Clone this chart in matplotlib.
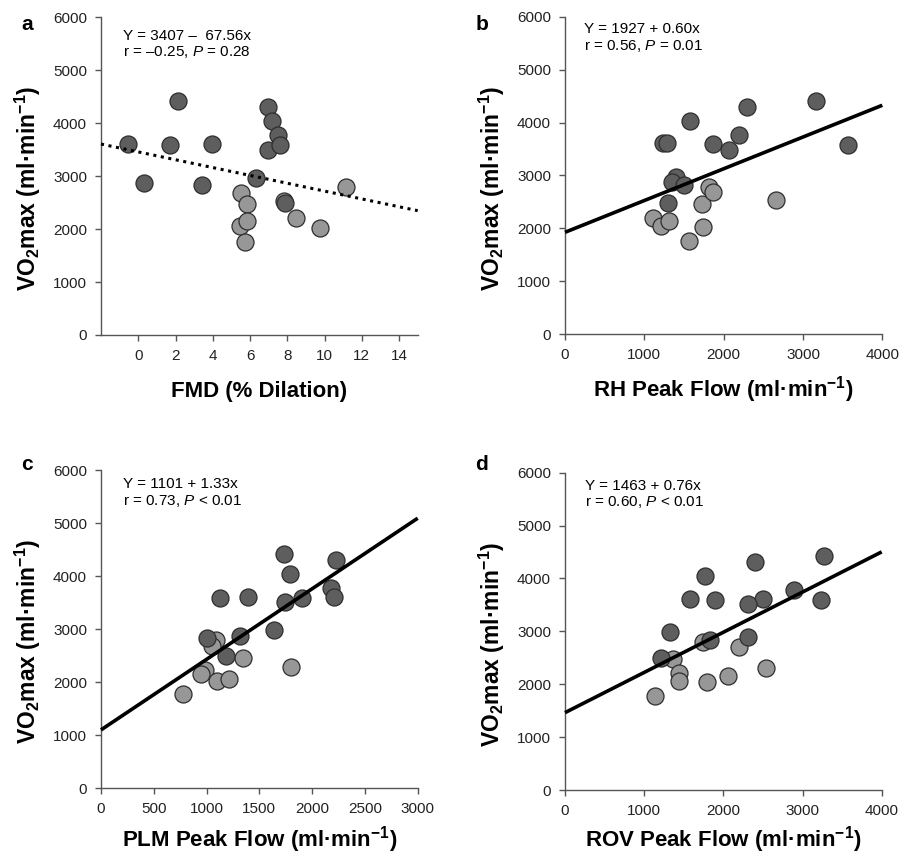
import numpy as np
import matplotlib
matplotlib.use('Agg')
import matplotlib.pyplot as plt

plt.rcParams['font.family'] = ['Liberation Sans', 'DejaVu Sans']
plt.rcParams['mathtext.fontset'] = 'custom'
plt.rcParams['mathtext.rm'] = 'Liberation Sans'
plt.rcParams['mathtext.it'] = 'Liberation Sans:italic'
plt.rcParams['mathtext.bf'] = 'Liberation Sans:bold'

# ---- datos ----
# Panel a: FMD (% dilatacion)
fmd_dark_x = [-0.57, 0.29, 1.69, 2.14, 3.44, 3.97, 6.33, 6.99, 7.20, 6.97, 7.50, 7.59, 7.90]
fmd_dark_y = [3600, 2876, 3587, 4418, 2832, 3606, 2970, 4298, 4034, 3493, 3782, 3581, 2492]
fmd_light_x = [7.85, 5.49, 5.86, 5.44, 5.83, 5.74, 8.45, 9.75, 11.14]
fmd_light_y = [2530, 2687, 2467, 2052, 2146, 1762, 2209, 2026, 2794]

# Panel b: RH peak flow
rh_dark_x = [1239, 1286, 1576, 2294, 3168, 3567, 2189, 1866, 2063, 1399, 1353, 1496, 1303]
rh_dark_y = [3608, 3608, 4036, 4301, 4414, 3583, 3772, 3589, 3482, 2979, 2872, 2821, 2487]
rh_light_x = [1113, 1214, 1311, 1559, 1723, 1739, 1811, 1861, 2655]
rh_light_y = [2198, 2047, 2147, 1763, 2462, 2021, 2783, 2683, 2531]

# Panel c: PLM peak flow
plm_dark_x = [1734, 2227, 1791, 2176, 2205, 1131, 1396, 1743, 1905, 1639, 1320, 1001, 1188]
plm_dark_y = [4410, 4309, 4039, 3781, 3605, 3593, 3605, 3505, 3580, 2977, 2876, 2832, 2493]
plm_light_x = [1087, 1052, 1349, 985, 951, 1096, 1210, 774, 1804]
plm_light_y = [2794, 2681, 2461, 2229, 2147, 2027, 2058, 1769, 2292]

# Panel d: ROV peak flow
rov_dark_x = [3267, 2396, 1773, 1579, 1891, 2505, 2316, 2897, 3229, 1326, 1827, 2316, 1217]
rov_dark_y = [4423, 4310, 4045, 3604, 3591, 3611, 3510, 3781, 3591, 2980, 2835, 2885, 2489]
rov_light_x = [1360, 1440, 1440, 1739, 2202, 1794, 2059, 2543, 1133]
rov_light_y = [2476, 2218, 2067, 2791, 2697, 2035, 2149, 2300, 1777]

# regresiones (ordenada, pendiente) como se ven en la figura
reg_a = (3458, -74.0)
reg_b = (1927, 0.60)
reg_c = (1101, 1.33)
reg_d = (1463, 0.76)

DARK = '#5e5e5e'
LIGHT = '#979797'
EDGE = '#2e2e2e'
SPINE = '#555555'

W, H = 909, 858
fig = plt.figure(figsize=(W / 100, H / 100), dpi=100)

YLAB = r'VO$_\mathbf{2}$max (ml·min$^{\mathbf{-1}}$)'
UNIT = r' (ml·min$^{\mathbf{-1}}$)'


def make_ax(left, top, right, bottom):
    return fig.add_axes([left / W, 1 - bottom / H, (right - left) / W, (bottom - top) / H])


def style(ax, hpx, xlab_off):
    for s in ['top', 'right']:
        ax.spines[s].set_visible(False)
    for s in ['left', 'bottom']:
        ax.spines[s].set_color(SPINE)
        ax.spines[s].set_linewidth(1.0)
    ax.tick_params(direction='out', length=4, width=1, color=SPINE,
                   labelsize=11, labelcolor='#222222', pad=6)
    ax.set_ylim(0, 6000)
    ax.set_yticks(range(0, 6001, 1000))
    ax.set_ylabel(YLAB, fontsize=16.5, fontweight='bold', va='center')
    ax.yaxis.set_label_coords(-73 / 317, 0.46)
    ax.xaxis.label.set_va('center')
    ax.xaxis.set_label_coords(0.5, -xlab_off / hpx)


def points(ax, dx, dy, lx, ly):
    ax.scatter(lx, ly, s=150, c=LIGHT, edgecolors=EDGE, linewidths=0.9, zorder=3)
    ax.scatter(dx, dy, s=150, c=DARK, edgecolors=EDGE, linewidths=0.9, zorder=3)


def reg(ax, coef, x0, x1, ls='-', lw=2.6):
    xs = np.array([x0, x1])
    ax.plot(xs, coef[0] + coef[1] * xs, color='black', ls=ls, lw=lw, zorder=4,
            solid_capstyle='butt', clip_on=False)


def note(ax, l1, l2, dx, dy, hpx):
    ax.text(dx / 317, 1 - dy / hpx, l1, transform=ax.transAxes, fontsize=11, va='center')
    ax.text(dx / 317, 1 - (dy + 16.3) / hpx, l2, transform=ax.transAxes, fontsize=11, va='center')


# ---- panel a ----
ax1 = make_ax(101, 17.3, 417.7, 335)
style(ax1, 317.7, 57)
reg(ax1, reg_a, -2, 15, ls=(0, (1, 1.5)), lw=2.2)
points(ax1, fmd_dark_x, fmd_dark_y, fmd_light_x, fmd_light_y)
ax1.set_xlim(-2, 15)
ax1.set_xticks(range(0, 15, 2))
ax1.set_xlabel('FMD (% Dilation)', fontsize=16, fontweight='bold')
note(ax1, 'Y = 3407 –  67.56x', 'r = –0.25, $P$ = 0.28', 22, 18.4, 317.7)

# ---- panel b ----
ax2 = make_ax(565, 16.7, 882.3, 334.3)
style(ax2, 317.6, 55)
reg(ax2, reg_b, 0, 4000)
points(ax2, rh_dark_x, rh_dark_y, rh_light_x, rh_light_y)
ax2.set_xlim(0, 4000)
ax2.set_xticks(range(0, 4001, 1000))
ax2.set_xlabel('RH Peak Flow' + UNIT, fontsize=16, fontweight='bold')
note(ax2, 'Y = 1927 + 0.60x', 'r = 0.56, $P$ = 0.01', 19, 12.7, 317.6)

# ---- panel c ----
ax3 = make_ax(101, 470, 417.7, 788.3)
style(ax3, 318.3, 51)
reg(ax3, reg_c, 0, 3000)
points(ax3, plm_dark_x, plm_dark_y, plm_light_x, plm_light_y)
ax3.set_xlim(0, 3000)
ax3.set_xticks(range(0, 3001, 500))
ax3.set_xlabel('PLM Peak Flow' + UNIT, fontsize=16, fontweight='bold')
note(ax3, 'Y = 1101 + 1.33x', 'r = 0.73, $P$ < 0.01', 22, 14.3, 318.3)

# ---- panel d ----
ax4 = make_ax(565, 472.7, 881.7, 790)
style(ax4, 317.3, 50)
reg(ax4, reg_d, 0, 4000)
points(ax4, rov_dark_x, rov_dark_y, rov_light_x, rov_light_y)
ax4.set_xlim(0, 4000)
ax4.set_xticks(range(0, 4001, 1000))
ax4.set_xlabel('ROV Peak Flow' + UNIT, fontsize=16, fontweight='bold')
note(ax4, 'Y = 1463 + 0.76x', 'r = 0.60, $P$ < 0.01', 20, 13, 317.3)

# letras de panel
for lab, x, y in [('a', 27, 25), ('b', 482, 25), ('c', 27, 465), ('d', 482, 465)]:
    fig.text(x / W, 1 - y / H, lab, fontsize=15, fontweight='bold', va='center', ha='center')

fig.savefig('out.png', dpi=100)
